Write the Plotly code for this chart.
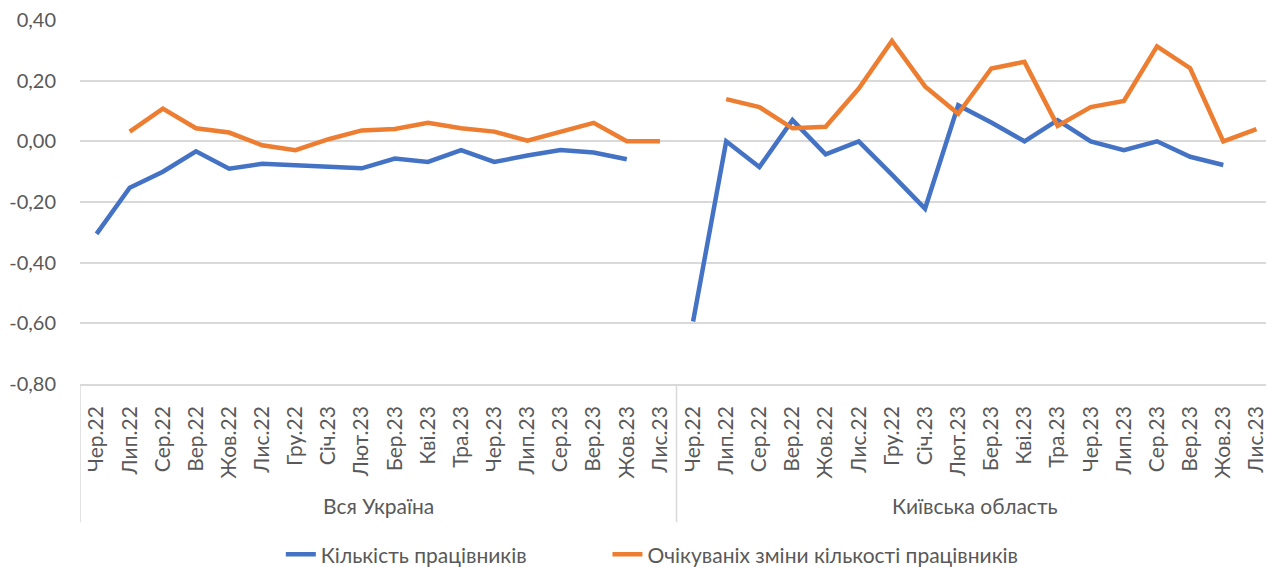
import plotly.graph_objects as go

months = ["Чер.22", "Лип.22", "Сер.22", "Вер.22", "Жов.22", "Лис.22", "Гру.22", "Січ.23", "Лют.23",
          "Бер.23", "Кві.23", "Тра.23", "Чер.23", "Лип.23", "Сер.23", "Вер.23", "Жов.23", "Лис.23"]
groups = ["Вся Україна", "Київська область"]

workers_ua = [-0.305, -0.153, -0.10, -0.033, -0.090, -0.074, -0.079, -0.085, -0.089,
              -0.057, -0.068, -0.029, -0.068, -0.047, -0.029, -0.037, -0.059, None]
expect_ua = [None, 0.032, 0.108, 0.043, 0.029, -0.013, -0.029, 0.007, 0.036,
             0.041, 0.061, 0.043, 0.032, 0.002, 0.030, 0.061, 0.0, 0.0]
workers_kyiv = [-0.594, 0.0, -0.085, 0.070, -0.043, 0.0, -0.11, -0.222, 0.119,
                0.062, 0.0, 0.070, 0.0, -0.029, 0.0, -0.051, -0.078, None]
expect_kyiv = [None, 0.139, 0.113, 0.043, 0.048, 0.174, 0.331, 0.181, 0.091,
               0.240, 0.262, 0.051, 0.113, 0.133, 0.313, 0.241, 0.0, 0.040]

series_names = ["Кількість працівників", "Очікуваніх зміни кількості працівників"]
y_ticks = [0.40, 0.20, 0.0, -0.20, -0.40, -0.60, -0.80]

BLUE = "#4472C4"
ORANGE = "#ED7D31"
TXT = "#595959"
GRID = "#D9D9D9"
FONT = "Lato"
FS = 21

n = len(months)
xs = list(range(2 * n))
ticktext = months + months

fig = go.Figure()
fig.add_trace(go.Scatter(x=xs, y=workers_ua + workers_kyiv, mode="lines", name=series_names[0],
                         line=dict(color=BLUE, width=4.5), connectgaps=False, legend="legend"))
fig.add_trace(go.Scatter(x=xs, y=expect_ua + expect_kyiv, mode="lines", name=series_names[1],
                         line=dict(color=ORANGE, width=4.5), connectgaps=False, legend="legend2"))

plot_h = 363.5
leg_common = dict(orientation="h", xref="container", xanchor="left", yref="container", y=0.022,
                  yanchor="middle", font=dict(size=FS, color=TXT), bgcolor="rgba(0,0,0,0)")
fig.update_layout(
    width=1266, height=559,
    margin=dict(l=72, r=1, t=12, b=183, autoexpand=False),
    plot_bgcolor="white", paper_bgcolor="white",
    font=dict(family=FONT, color=TXT, size=FS),
    showlegend=True,
    legend=dict(x=0.2155, **leg_common),
    legend2=dict(x=0.4735, **leg_common),
)
fig.update_xaxes(range=[-0.5, 2 * n - 0.5], tickmode="array", tickvals=xs, ticktext=ticktext,
                 tickangle=-90, showgrid=False, zeroline=False, showline=True, linecolor=GRID,
                 linewidth=1.5, ticks="", ticklabelstandoff=12, automargin=False,
                 ticklabeloverflow="allow", tickfont=dict(size=FS, color=TXT))
fig.update_yaxes(range=[-0.8, 0.4], tickmode="array", tickvals=y_ticks,
                 ticktext=[f"{v:.2f}".replace(".", ",") for v in y_ticks],
                 showgrid=True, gridcolor=GRID, gridwidth=1.5, zeroline=False, showline=False,
                 ticks="", ticklabelstandoff=23, automargin=False, ticklabeloverflow="allow",
                 tickfont=dict(size=20, color=TXT))

box_bottom = -(522 - 384) / plot_h
for xv in [-0.5, n - 0.5, 2 * n - 0.5]:
    fig.add_shape(type="line", xref="x", yref="paper", x0=xv, x1=xv, y0=0, y1=box_bottom,
                  line=dict(color=GRID, width=1.5))
for i, g in enumerate(groups):
    fig.add_annotation(x=i * n + (n - 1) / 2, xref="x", y=-(505 - 384) / plot_h, yref="paper",
                       text=g, showarrow=False, font=dict(size=FS, color=TXT), yanchor="middle")

fig.write_html("out.html")
